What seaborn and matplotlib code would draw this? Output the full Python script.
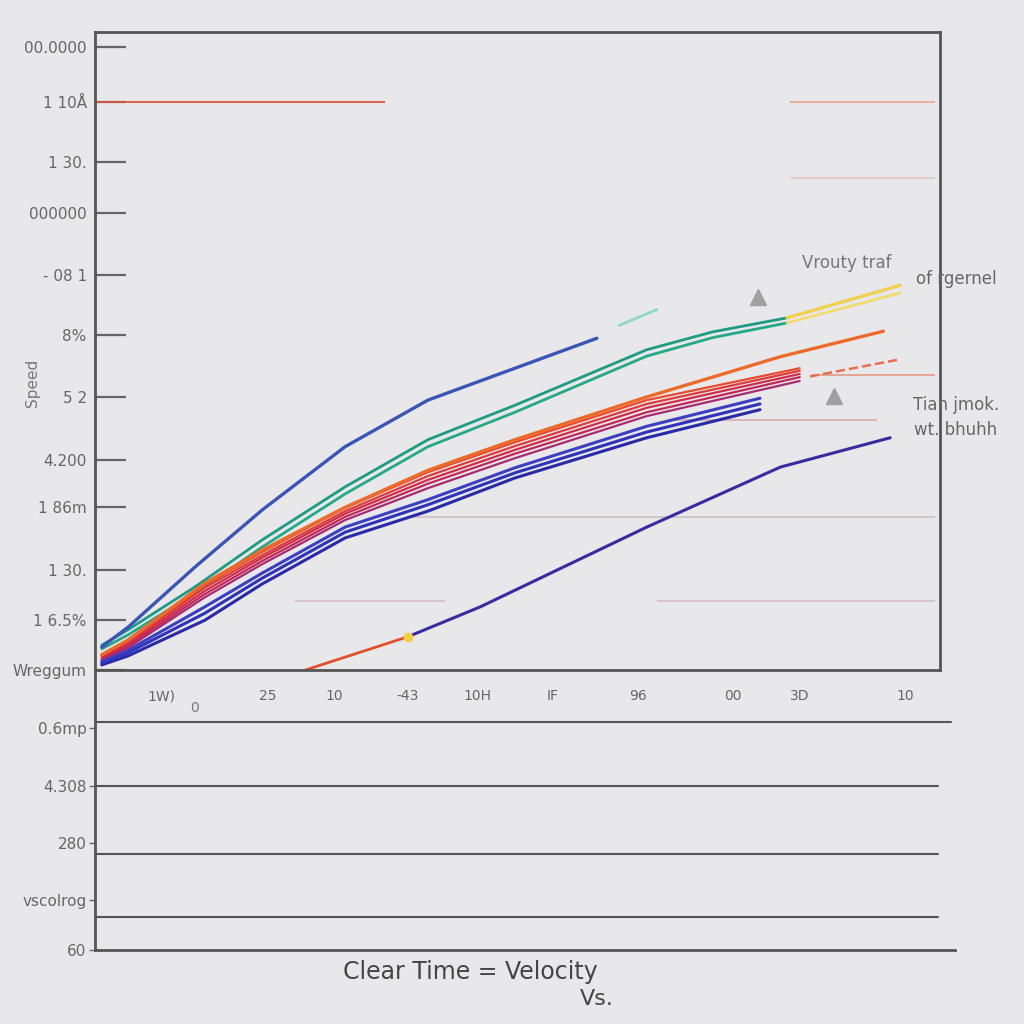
import matplotlib
matplotlib.use("Agg")
import matplotlib.pyplot as plt
import seaborn as sns

# ---------------- data ----------------
x_blue = [0.8, 3.9, 11.8, 19.8, 29.6, 39.4, 49.7, 59.4]
y_blue = [3.6, 6.7, 16.1, 25.1, 35.0, 42.3, 47.3, 52.0]

x_teal = [0.8, 3.9, 11.8, 19.8, 29.6, 39.4, 49.7, 65.3, 73.1, 81.9]
y_teal_a = [3.9, 6.3, 13.0, 20.4, 28.7, 36.1, 41.5, 50.2, 53.0, 55.2]
y_teal_b = [3.3, 5.5, 12.0, 19.3, 27.6, 35.0, 40.4, 49.2, 52.1, 54.4]

x_yellow = [81.9, 95.3]
y_yellow_a = [55.2, 60.3]
y_yellow_b = [54.4, 59.1]

x_orange = [0.8, 3.9, 13.0, 19.8, 29.6, 39.4, 49.7, 65.3, 81.1, 93.3]
y_orange = [2.4, 4.7, 13.6, 18.8, 25.5, 31.3, 36.1, 42.8, 49.1, 53.1]

x_red = [0.8, 3.9, 13.0, 19.8, 29.6, 39.4, 49.7, 65.3, 83.4]
y_red_1 = [2.4, 4.7, 13.3, 18.5, 25.4, 31.0, 35.7, 42.3, 47.3]
y_red_2 = [2.2, 4.4, 12.9, 18.0, 24.9, 30.4, 35.1, 41.7, 46.9]
y_red_3 = [2.0, 4.1, 12.4, 17.6, 24.5, 29.8, 34.5, 41.1, 46.4]
y_red_4 = [1.9, 3.8, 11.9, 17.1, 24.0, 29.2, 33.9, 40.4, 45.9]
y_red_5 = [1.7, 3.5, 11.4, 16.6, 23.5, 28.5, 33.2, 39.8, 45.3]

x_navy = [0.8, 3.9, 13.0, 19.8, 29.6, 39.4, 49.7, 65.3, 78.7]
y_navy_1 = [1.4, 3.1, 9.9, 15.2, 22.4, 26.7, 31.7, 38.2, 42.6]
y_navy_2 = [1.1, 2.7, 8.9, 14.4, 21.6, 25.9, 30.9, 37.3, 41.7]
y_navy_3 = [0.8, 2.2, 7.8, 13.5, 20.7, 24.9, 30.1, 36.4, 40.8]

x_red_tail = [84.6, 94.9]
y_red_tail = [46.0, 48.6]

x_late_start = [24.9, 37.0]
y_late_start = [0.0, 5.2]
x_late = [37.0, 45.6, 65.3, 81.1, 94.1]
y_late = [5.2, 9.9, 22.4, 31.8, 36.4]

x_mint = [62.0, 66.5]
y_mint = [54.0, 56.5]

y_tick_vals = [97.6, 89.0, 79.6, 71.6, 61.9, 52.5, 42.8, 32.9, 25.5, 15.7, 7.8, 0.0]
y_tick_labels = ["00.0000", "1 10Å", "1 30.", "000000", "- 08 1", "8%", "5 2",
                 "4.200", "1 86m", "1 30.", "1 6.5%", "Wreggum"]

x_tick_vals = [7.9, 20.5, 28.3, 37.0, 45.3, 54.1, 64.3, 75.5, 83.4, 95.9]
x_tick_labels = ["1W)", "25", "10", "-43", "10H", "IF", "96", "00", "3D", "10"]

ref_levels = [89.0, 89.0, 77.1, 46.2, 39.2, 24.0, 10.8, 10.8]
ref_start = [0.0, 82.2, 82.2, 84.9, 67.7, 37.5, 23.7, 66.5]
ref_end = [34.3, 99.4, 99.4, 99.4, 92.5, 99.4, 41.4, 99.4]

low_grid = [228, 164, 96, 33]
low_grid_end = [0.995, 0.98, 0.98, 0.98]
low_tick_vals = [222, 164, 107, 50, 0]
low_tick_labels = ["0.6mp", "4.308", "280", "vscolrog", "60"]

# ---------------- style ----------------
bg = "#e8e8ea"
sns.set_theme(style="white")
plt.rcParams["font.family"] = ["DejaVu Sans"]
plt.rcParams["figure.facecolor"] = bg

fig = plt.figure(figsize=(10.24, 10.24), dpi=100)
ax2 = fig.add_axes([95/1024, 1-950/1024, 860/1024, 280/1024])
ax = fig.add_axes([95/1024, 1-670/1024, 845/1024, 638/1024])
ax.set_facecolor(bg)
ax2.patch.set_visible(False)

# faint reference lines
ref_colors = ["#d9533f", "#e8a890", "#e2c8c0", "#e0a090", "#d8b0b8", "#d4c0c4", "#d8c0c8", "#d8c0c8"]
for lv, s, e, c in zip(ref_levels, ref_start, ref_end, ref_colors):
    ax.hlines(lv, s, e, color=c, lw=1.3, zorder=1)

def line(xs, ys, color, lw=2.2, ls="-"):
    sns.lineplot(x=xs, y=ys, ax=ax, color=color, lw=lw, ls=ls, sort=False, estimator=None)

line(x_teal, y_teal_a, "#1e9a86", 2.0)
line(x_teal, y_teal_b, "#24a888", 2.0)
line(x_yellow, y_yellow_a, "#f0d050", 2.4)
line(x_yellow, y_yellow_b, "#f2dc70", 2.0)
line(x_blue, y_blue, "#3b55b5", 2.4)
for yb, c in zip([y_navy_3, y_navy_2, y_navy_1], ["#2a2aa8", "#2e34b8", "#3d3ec0"]):
    line(x_navy, yb, c, 2.2)
for yb, c in zip([y_red_5, y_red_4, y_red_3, y_red_2, y_red_1],
                 ["#a82a70", "#c02858", "#d02c48", "#dc3a3c", "#e84a30"]):
    line(x_red, yb, c, 1.6)
line(x_orange, y_orange, "#ec6a2a", 2.4)
line(x_red_tail, y_red_tail, "#e87050", 1.8, "--")
line(x_late_start, y_late_start, "#e0502a", 2.0)
line(x_late, y_late, "#3a2aa0", 2.2)
ax.plot([37.0], [5.2], marker="o", ms=6, color="#f0d040", zorder=5)
line(x_mint, y_mint, "#8ed8c8", 2.0)

ax.set_xlim(0, 100)
ax.set_ylim(0, 100)
ax.set_yticks(y_tick_vals)
ax.set_yticklabels(y_tick_labels)
ax.set_xticks(x_tick_vals)
ax.set_xticklabels(x_tick_labels)
ax.tick_params(axis="y", left=True, direction="in", length=22, width=1.6, color="#666",
               labelsize=11, labelcolor="#666", pad=6)
ax.tick_params(axis="x", bottom=False, length=0, labelsize=10, labelcolor="#666", pad=14)
for sp in ax.spines.values():
    sp.set_color("#555")
    sp.set_linewidth(2)
ax.set_ylabel("Speed", color="#777", fontsize=11)
ax.yaxis.set_label_coords(-0.065, 0.45)

# annotations
ax.text(89.0, 63.8, "Vrouty traf", color="#777", fontsize=12, ha="center", va="center")
ax.text(101.9, 61.3, "of rgernel", color="#666", fontsize=12, ha="center", va="center", clip_on=False)
ax.text(101.9, 41.5, "Tian jmok.", color="#666", fontsize=12, ha="center", va="center", clip_on=False)
ax.text(101.9, 37.6, "wt. bhuhh", color="#666", fontsize=12, ha="center", va="center", clip_on=False)
ax.plot([78.5, 87.5], [58.5, 43.0], ls="none", marker="^", ms=11, color="#a0a0a0")

# lower panel
ax2.set_xlim(0, 100)
ax2.set_ylim(0, 280)
for g, e in zip(low_grid, low_grid_end):
    ax2.axhline(g, xmax=e, color="#555", lw=1.5)
ax2.set_yticks(low_tick_vals)
ax2.set_yticklabels(low_tick_labels)
ax2.set_xticks([])
ax2.tick_params(axis="y", left=True, direction="out", length=4, width=1, color="#666",
                labelsize=11, labelcolor="#666", pad=2)
ax2.spines["top"].set_visible(False)
ax2.spines["right"].set_visible(False)
for sp in ("left", "bottom"):
    ax2.spines[sp].set_color("#555")
    ax2.spines[sp].set_linewidth(2)
ax2.text(11.6, 242, "0", color="#777", fontsize=10, ha="center", va="center")

fig.text(470/1024, 1-972/1024, "Clear Time = Velocity", ha="center", va="center",
         fontsize=17, color="#444")
fig.text(597/1024, 1-999/1024, "Vs.", ha="center", va="center", fontsize=16, color="#444")

fig.savefig("out.png", dpi=100, facecolor=bg)
